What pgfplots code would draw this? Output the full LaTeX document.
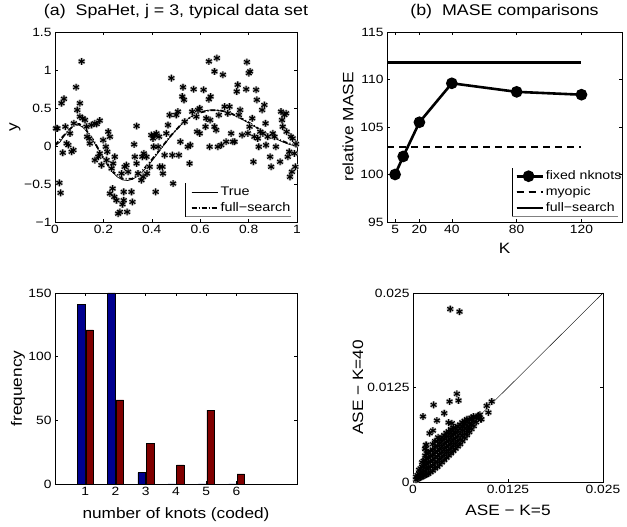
\documentclass[border=0pt]{standalone}
\usepackage{fontspec}
\setmainfont{Liberation Sans}[FakeStretch=1.15]
\usepackage{pgfplots}
\usepackage{pgfplotstable}
\pgfplotsset{compat=1.18}
\definecolor{jetblue}{RGB}{0,0,143}
\definecolor{jetred}{RGB}{128,0,0}

% noisy observations, panel (a)
\pgfplotstableread{
x y
0.004 0.232
0.010 0.232
0.018 -0.485
0.023 -0.617
0.032 -0.089
0.027 0.563
0.037 0.620
0.043 0.254
0.048 0.034
0.055 0.012
0.062 0.166
0.069 -0.076
0.076 -0.054
0.078 0.298
0.087 0.774
0.092 0.474
0.103 0.563
0.110 1.113
0.103 0.386
0.114 0.364
0.124 0.342
0.130 0.254
0.133 0.122
0.141 0.100
0.144 0.034
0.151 0.276
0.165 0.298
0.172 0.290
0.185 0.334
0.165 -0.186
0.179 -0.142
0.185 -0.098
0.192 -0.252
0.199 0.078
0.210 -0.010
0.216 -0.076
0.220 0.188
0.227 0.122
0.213 -0.186
0.234 -0.296
0.240 -0.230
0.247 -0.142
0.227 -0.626
0.238 -0.560
0.245 -0.670
0.254 -0.714
0.261 -0.890
0.268 -0.868
0.279 -0.767
0.284 -0.714
0.298 -0.868
0.275 -0.362
0.288 -0.274
0.295 -0.252
0.302 -0.340
0.284 -0.604
0.316 -0.604
0.320 -0.736
0.327 0.021
0.337 0.263
0.330 -0.142
0.337 -0.230
0.343 -0.362
0.357 -0.450
0.364 -0.406
0.361 -0.142
0.367 -0.098
0.378 -0.142
0.380 -0.362
0.391 -0.274
0.398 0.144
0.405 0.100
0.412 0.144
0.419 0.166
0.430 0.122
0.426 -0.010
0.408 -0.010
0.416 -0.604
0.433 -0.274
0.444 -0.274
0.446 -0.362
0.453 -0.120
0.460 0.166
0.467 0.276
0.474 0.408
0.481 0.893
0.485 -0.120
0.488 -0.494
0.501 0.408
0.508 0.452
0.512 -0.120
0.518 0.056
0.526 0.651
0.533 0.607
0.529 0.774
0.536 0.320
0.549 -0.010
0.556 -0.230
0.559 0.012
0.567 0.452
0.573 0.747
0.584 0.386
0.591 0.474
0.598 0.496
0.587 0.188
0.598 0.166
0.614 0.739
0.622 0.254
0.625 0.364
0.636 0.615
0.639 -0.010
0.641 0.342
0.643 0.651
0.636 1.113
0.659 0.981
0.669 1.157
0.659 0.254
0.666 0.210
0.673 -0.010
0.677 0.408
0.687 0.012
0.694 0.937
0.701 0.518
0.707 0.056
0.714 0.430
0.721 0.518
0.728 0.166
0.735 0.056
0.742 0.056
0.751 0.717
0.755 0.805
0.760 0.408
0.765 0.474
0.773 0.144
0.790 0.747
0.793 1.104
0.801 0.959
0.806 0.981
0.797 0.166
0.804 0.254
0.815 0.364
0.820 -0.208
0.824 0.122
0.831 0.739
0.834 0.607
0.838 0.100
0.842 -0.010
0.848 0.188
0.856 0.474
0.865 0.540
0.859 0.166
0.870 0.298
0.872 0.012
0.879 0.122
0.889 -0.142
0.893 -0.274
0.900 0.166
0.907 0.122
0.913 -0.010
0.930 -0.208
0.934 0.452
0.938 0.342
0.941 0.254
0.948 0.408
0.955 0.430
0.957 0.188
0.962 -0.142
0.968 -0.076
0.975 0.122
0.982 0.100
0.971 -0.406
0.979 -0.340
0.989 -0.098
0.993 -0.274
0.996 0.026
}\dataA

% true curve, panel (a)
\pgfplotstableread{
x y
0 0
0.02 0.050
0.04 0.141
0.06 0.223
0.08 0.271
0.10 0.275
0.12 0.235
0.14 0.158
0.16 0.057
0.18 -0.056
0.20 -0.169
0.22 -0.271
0.24 -0.354
0.26 -0.413
0.28 -0.447
0.30 -0.454
0.32 -0.438
0.34 -0.400
0.36 -0.345
0.38 -0.277
0.40 -0.198
0.42 -0.114
0.44 -0.029
0.46 0.055
0.48 0.136
0.50 0.210
0.52 0.276
0.54 0.333
0.56 0.381
0.58 0.418
0.60 0.446
0.62 0.464
0.64 0.473
0.66 0.473
0.68 0.465
0.70 0.451
0.72 0.430
0.74 0.403
0.76 0.373
0.78 0.339
0.80 0.303
0.82 0.266
0.84 0.228
0.86 0.190
0.88 0.153
0.90 0.118
0.92 0.085
0.94 0.055
0.96 0.030
0.98 0.011
1.00 0
}\trueA

% full-search fit, panel (a)
\pgfplotstableread{
x y
0 0.01
0.04 0.15
0.08 0.28
0.10 0.29
0.12 0.25
0.16 0.07
0.20 -0.16
0.24 -0.34
0.28 -0.43
0.32 -0.43
0.36 -0.33
0.40 -0.18
0.44 -0.02
0.48 0.14
0.52 0.28
0.56 0.38
0.60 0.44
0.64 0.47
0.68 0.47
0.72 0.44
0.76 0.38
0.80 0.31
0.84 0.23
0.88 0.15
0.92 0.09
0.96 0.04
1.00 0.01
}\fitA

% ASE pairs, panel (d)
\pgfplotstableread{
x y
0.00490 0.02288
0.00612 0.02253
0.00577 0.01166
0.00599 0.01078
0.00481 0.01064
0.00271 0.01020
0.00411 0.00910
0.00131 0.00866
0.00315 0.00813
0.00468 0.00786
0.00511 0.00777
0.00262 0.00680
0.00219 0.00645
0.00175 0.00490
0.00162 0.00437
0.01036 0.01064
0.00970 0.01007
0.00992 0.00919
0.00892 0.00830
0.00795 0.00866
0.0004 0.0003
0.0004 0.0007
0.0006 0.0004
0.0006 0.0009
0.0008 0.0005
0.0008 0.0011
0.0008 0.0016
0.0010 0.0006
0.0010 0.0012
0.0010 0.0018
0.0012 0.0007
0.0012 0.0013
0.0012 0.0020
0.0012 0.0026
0.0014 0.0008
0.0014 0.0014
0.0014 0.0021
0.0014 0.0028
0.0016 0.0009
0.0016 0.0015
0.0016 0.0022
0.0016 0.0029
0.0016 0.0035
0.0018 0.0010
0.0018 0.0017
0.0018 0.0024
0.0018 0.0031
0.0018 0.0038
0.0020 0.0011
0.0020 0.0018
0.0020 0.0025
0.0020 0.0032
0.0020 0.0039
0.0023 0.0013
0.0023 0.0020
0.0023 0.0027
0.0023 0.0034
0.0023 0.0041
0.0026 0.0015
0.0026 0.0022
0.0026 0.0029
0.0026 0.0036
0.0026 0.0043
0.0029 0.0018
0.0029 0.0025
0.0029 0.0032
0.0029 0.0039
0.0029 0.0046
0.0032 0.0020
0.0032 0.0027
0.0032 0.0034
0.0032 0.0041
0.0032 0.0048
0.0032 0.0054
0.0035 0.0023
0.0035 0.0030
0.0035 0.0037
0.0035 0.0044
0.0035 0.0051
0.0035 0.0057
0.0038 0.0026
0.0038 0.0033
0.0038 0.0040
0.0038 0.0047
0.0038 0.0054
0.0038 0.0059
0.0041 0.0029
0.0041 0.0036
0.0041 0.0043
0.0041 0.0050
0.0041 0.0057
0.0041 0.0062
0.0044 0.0032
0.0044 0.0039
0.0044 0.0046
0.0044 0.0053
0.0044 0.0060
0.0044 0.0065
0.0047 0.0035
0.0047 0.0042
0.0047 0.0049
0.0047 0.0056
0.0047 0.0063
0.0047 0.0067
0.0050 0.0038
0.0050 0.0045
0.0050 0.0052
0.0050 0.0059
0.0050 0.0065
0.0050 0.0070
0.0053 0.0041
0.0053 0.0048
0.0053 0.0055
0.0053 0.0062
0.0053 0.0068
0.0053 0.0072
0.0056 0.0044
0.0056 0.0051
0.0056 0.0058
0.0056 0.0065
0.0056 0.0071
0.0059 0.0047
0.0059 0.0054
0.0059 0.0061
0.0059 0.0068
0.0059 0.0074
0.0062 0.0050
0.0062 0.0057
0.0062 0.0064
0.0062 0.0071
0.0062 0.0076
0.0065 0.0054
0.0065 0.0061
0.0065 0.0068
0.0065 0.0074
0.0065 0.0079
0.0068 0.0058
0.0068 0.0064
0.0068 0.0071
0.0068 0.0077
0.0068 0.0081
0.0071 0.0062
0.0071 0.0068
0.0071 0.0074
0.0071 0.0080
0.0071 0.0083
0.0074 0.0066
0.0074 0.0072
0.0074 0.0078
0.0074 0.0083
0.0077 0.0070
0.0077 0.0076
0.0077 0.0082
0.0077 0.0085
0.0080 0.0074
0.0080 0.0080
0.0080 0.0086
0.0083 0.0079
0.0083 0.0085
0.0086 0.0084
0.0086 0.0088
0.0017 0.0049
0.0016 0.0044
0.0026 0.0050
0.0029 0.0054
0.0033 0.0059
0.0090 0.0083
0.0088 0.0089
}\dataD

\pgfplotsset{
  matfig/.style={
    scale only axis,
    anchor=south west,
    tick align=inside,
    major tick length=3pt,
    tick style={black, line width=0.5pt},
    axis line style={line width=0.7pt},
    ticklabel style={font=\fontsize{12}{14}\selectfont},
    label style={font=\fontsize{15}{18}\selectfont},
    title style={font=\fontsize{15.5}{18}\selectfont},
    /pgf/number format/assume math mode=true,
    scaled ticks=false,
    legend cell align=left,
  },
  halo/.style={only marks, mark=asterisk, mark size=3.5pt,
    mark options={gray!60, line width=2.6pt}},
  star/.style={only marks, mark=asterisk, mark size=3.4pt,
    mark options={black, line width=1.1pt}},
}

\begin{document}
\begin{tikzpicture}
\path[use as bounding box] (0,0) rectangle (627pt,527pt);

% (a) typical data set
\begin{axis}[matfig, at={(55pt,305pt)}, width=242pt, height=190pt,
  xmin=0, xmax=1, ymin=-1, ymax=1.5,
  xtick={0,0.2,0.4,0.6,0.8,1}, xticklabels={0,0.2,0.4,0.6,0.8,1},
  ytick={-1,-0.5,0,0.5,1,1.5}, yticklabels={−1,−0.5,0,0.5,1,1.5},
  ylabel={y}, ylabel style={at={(axis description cs:-0.165,0.5)}, anchor=center},
  title={(a)\ \ SpaHet, j = 3, typical data set},
  title style={at={(axis description cs:0.5,1.055)}, anchor=base},
  legend image code/.code={\draw[#1] (0pt,0pt) -- (21pt,0pt); \path (0pt,0pt) -- (26pt,0pt);},
  legend style={at={(axis description cs:0.56,0.195)}, anchor=north west,
    draw=none, fill=none, font=\fontsize{12.5}{14}\selectfont,
    inner sep=0pt, row sep=1.5pt}]
\addplot[halo, forget plot] table {\dataA};
\addplot[star, forget plot] table {\dataA};
\addplot[black, line width=0.7pt] table {\trueA};
\addplot[black, line width=1.8pt, dash pattern=on 5pt off 2pt on 1pt off 2pt] table {\fitA};
\legend{True, full−search}
\draw[black, line width=0.5pt] (rel axis cs:0.540,0.204) -- (rel axis cs:0.540,0.028);
\draw[gray, line width=0.8pt] (rel axis cs:0.540,0.028) -- (rel axis cs:0.975,0.028);
\end{axis}

% (b) MASE comparisons
\begin{axis}[matfig, at={(387pt,305pt)}, width=235pt, height=190pt,
  xmin=0, xmax=145, ymin=95, ymax=115,
  xtick={5,20,40,80,120}, ytick={95,100,105,110,115},
  xlabel={K}, xlabel style={at={(axis description cs:0.5,-0.137)}, anchor=center},
  ylabel={relative MASE}, ylabel style={at={(axis description cs:-0.166,0.5)}, anchor=center},
  title={(b)\ \ MASE comparisons},
  title style={at={(axis description cs:0.5,1.055)}, anchor=base},
  legend image code/.code={\draw[mark repeat=2, mark phase=2, #1] plot coordinates {(0pt,0pt) (12pt,0pt) (24pt,0pt)}; \path (0pt,0pt) -- (26pt,0pt);},
  legend style={at={(axis description cs:0.545,0.28)}, anchor=north west,
    draw=none, fill=none, font=\fontsize{12.3}{15}\selectfont,
    inner sep=0pt, row sep=1.5pt}]
\addplot[black, line width=2.6pt, mark=*, mark size=4.5pt]
  coordinates {(5,100) (10,101.9) (20,105.5) (40,109.6) (80,108.7) (120,108.4)};
\addplot[black, line width=2.6pt, dash pattern=on 7pt off 5pt]
  coordinates {(0,102.9) (120,102.9)};
\addplot[black, line width=2.6pt]
  coordinates {(0,111.8) (120,111.8)};
\legend{fixed nknots, myopic, full−search}
\draw[black, line width=0.5pt] (rel axis cs:0.531,0.283) -- (rel axis cs:0.531,0.032);
\draw[gray, line width=0.8pt] (rel axis cs:0.531,0.032) -- (rel axis cs:0.984,0.032);
\end{axis}

% (c) histogram of coded knot numbers
\begin{axis}[matfig, at={(55pt,43pt)}, width=242pt, height=191pt,
  xmin=0, xmax=8, ymin=0, ymax=150,
  xtick={1,2,3,4,5,6}, ytick={0,50,100,150},
  xlabel={number of knots (coded)}, xlabel style={at={(axis description cs:0.5,-0.162)}, anchor=center},
  ylabel={frequency}, ylabel style={at={(axis description cs:-0.153,0.5)}, anchor=center}]
\addplot[ybar, bar width=7.5pt, bar shift=-4pt, fill=jetblue, draw=black, line width=0.5pt]
  coordinates {(1,141) (2,150) (3,9) (4,0) (5,0) (6,0)};
\addplot[ybar, bar width=7.5pt, bar shift=4.5pt, fill=jetred, draw=black, line width=0.5pt]
  coordinates {(1,121) (2,66) (3,32) (4,15) (5,58) (6,8)};
\end{axis}

% (d) ASE, K=40 against K=5
\begin{axis}[matfig, at={(413pt,45pt)}, width=190pt, height=189pt,
  xmin=0, xmax=0.025, ymin=0, ymax=0.025,
  xtick={0,0.0125,0.025}, xticklabels={0,0.0125,0.025},
  ytick={0,0.0125,0.025}, yticklabels={0,0.0125,0.025},
  xlabel={ASE − K=5}, xlabel style={at={(axis description cs:0.5,-0.148)}, anchor=center},
  ylabel={ASE − K=40}, ylabel style={at={(axis description cs:-0.29,0.5)}, anchor=center}]
\addplot[black, line width=0.4pt] coordinates {(0,0) (0.025,0.025)};
\addplot[halo] table {\dataD};
\addplot[star] table {\dataD};
\end{axis}
\end{tikzpicture}
\end{document}
